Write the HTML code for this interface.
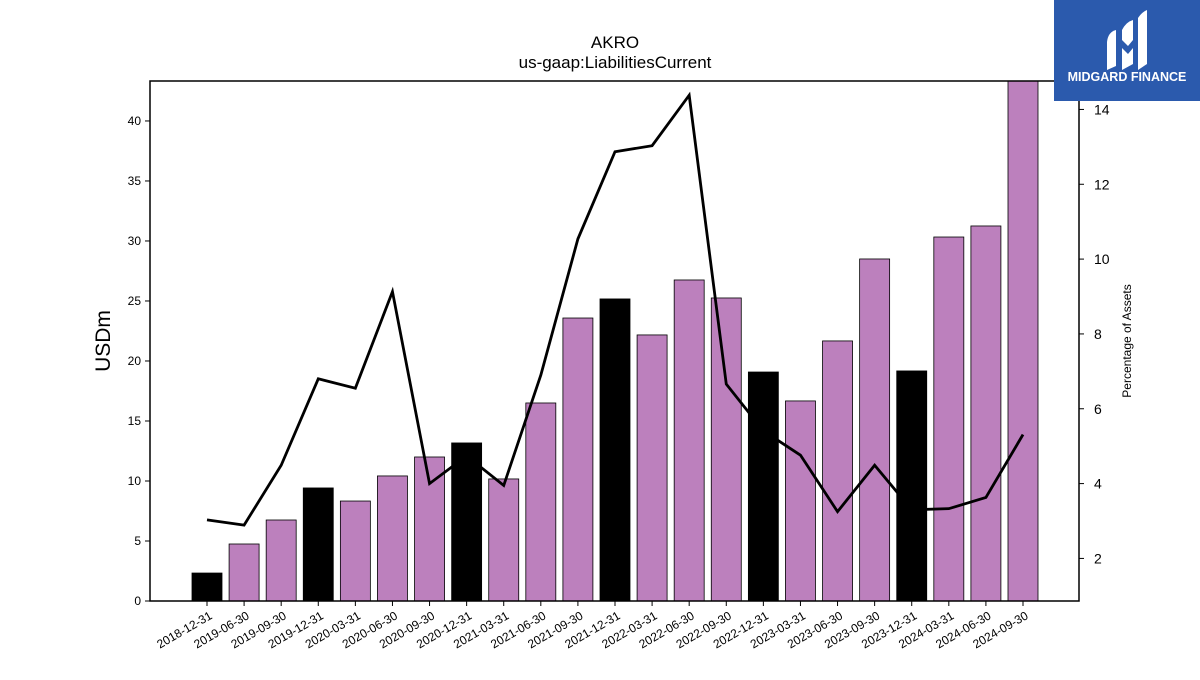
<!DOCTYPE html>
<html><head><meta charset="utf-8"><style>
body{margin:0;background:#fff;width:1200px;height:675px;overflow:hidden;font-family:"Liberation Sans",sans-serif}
</style></head><body>
<svg id="chart" width="1200" height="675" xmlns="http://www.w3.org/2000/svg" font-family="Liberation Sans, sans-serif">
<text x="615" y="48" text-anchor="middle" font-size="17">AKRO</text>
<text x="615" y="68" text-anchor="middle" font-size="17">us-gaap:LiabilitiesCurrent</text>
<text transform="translate(110,341) rotate(-90)" text-anchor="middle" font-size="21">USDm</text>
<text transform="translate(1131,341) rotate(-90)" text-anchor="middle" font-size="12">Percentage of Assets</text>
<g id="bars"></g><g id="axes"></g>
<g>
<rect x="1054" y="0" width="146" height="101" fill="#2b5aad"/>
<path d="M1107 42 Q1108 32 1116 30 L1116 66 L1107 70 Z" fill="#fff"/>
<path d="M1122 30 Q1126 22 1133 20 L1133 40 L1128 46 L1122 40 Z M1122 48 L1128 54 L1133 48 L1133 64 L1122 70 Z" fill="#fff"/>
<path d="M1138 18 Q1142 12 1147 10 L1147 64 L1138 70 Z" fill="#fff"/>
<text x="1127" y="81" text-anchor="middle" font-size="12.5" font-weight="bold" fill="#fff">MIDGARD FINANCE</text>
</g>
</svg>
<script>
const categories=["2018-12-31","2019-06-30","2019-09-30","2019-12-31","2020-03-31","2020-06-30","2020-09-30","2020-12-31","2021-03-31","2021-06-30","2021-09-30","2021-12-31","2022-03-31","2022-06-30","2022-09-30","2022-12-31","2023-03-31","2023-06-30","2023-09-30","2023-12-31","2024-03-31","2024-06-30","2024-09-30"];
const liabilities=[2.33,4.75,6.75,9.42,8.33,10.42,12.0,13.17,10.17,16.5,23.58,25.17,22.17,26.75,25.25,19.08,16.67,21.67,28.5,19.17,30.33,31.25,43.4];
const pctAssets=[3.03,2.89,4.49,6.8,6.55,9.13,4.0,4.74,3.95,6.9,10.54,12.87,13.03,14.38,6.66,5.41,4.76,3.25,4.49,3.3,3.33,3.63,5.31];
const yTicks=[0,5,10,15,20,25,30,35,40];
const y2Ticks=[2,4,6,8,10,12,14];
const NS="http://www.w3.org/2000/svg";
const L=150,R=1079,T=81,B=601;
const y=v=>B-(v/43.33)*(B-T);
const y2min=0.862,y2max=14.76;
const y2=v=>B-(v-y2min)/(y2max-y2min)*(B-T);
const step=(1023-207)/(categories.length-1);
const x=i=>207+i*step;
function mk(t,a,p){const e=document.createElementNS(NS,t);for(const k in a)e.setAttribute(k,a[k]);p.appendChild(e);return e;}
const bars=document.getElementById('bars'),axes=document.getElementById('axes');
const clip=mk('clipPath',{id:'pc'},bars);mk('rect',{x:L,y:T,width:R-L,height:B-T},clip);
const bg=mk('g',{'clip-path':'url(#pc)'},bars);
categories.forEach((c,i)=>{
 const yr=y(liabilities[i]);
 const r=mk('rect',{x:x(i)-15,y:yr,width:30,height:B-yr,fill:c.endsWith('12-31')?'#000':'#bc80bd',stroke:'#000','stroke-width':0.8},bg);
 
 
});
const pl=mk('polyline',{points:pctAssets.map((v,i)=>x(i)+','+y2(v)).join(' '),fill:'none',stroke:'#000','stroke-width':2.8},bg);


const fr=mk('rect',{x:L,y:T,width:R-L,height:B-T,fill:'none',stroke:'#000','stroke-width':1.5},axes);


yTicks.forEach(v=>{const yy=y(v);mk('line',{x1:L-5,x2:L,y1:yy,y2:yy,stroke:'#000'},axes);
 const t=mk('text',{x:L-9,y:yy+4,'text-anchor':'end','font-size':12},axes);t.textContent=v;
 
 });
y2Ticks.forEach(v=>{const yy=y2(v);mk('line',{x1:R,x2:R+5,y1:yy,y2:yy,stroke:'#000'},axes);
 const t=mk('text',{x:R+15,y:yy+5,'font-size':14},axes);t.textContent=v;
 
 });
categories.forEach((c,i)=>{mk('line',{x1:x(i),x2:x(i),y1:B,y2:B+5,stroke:'#000'},axes);
 const t=mk('text',{transform:`translate(${x(i)+6},${B+17}) rotate(-30)`,'text-anchor':'end','font-size':12},axes);t.textContent=c;
 
 });
</script>
</body></html>
